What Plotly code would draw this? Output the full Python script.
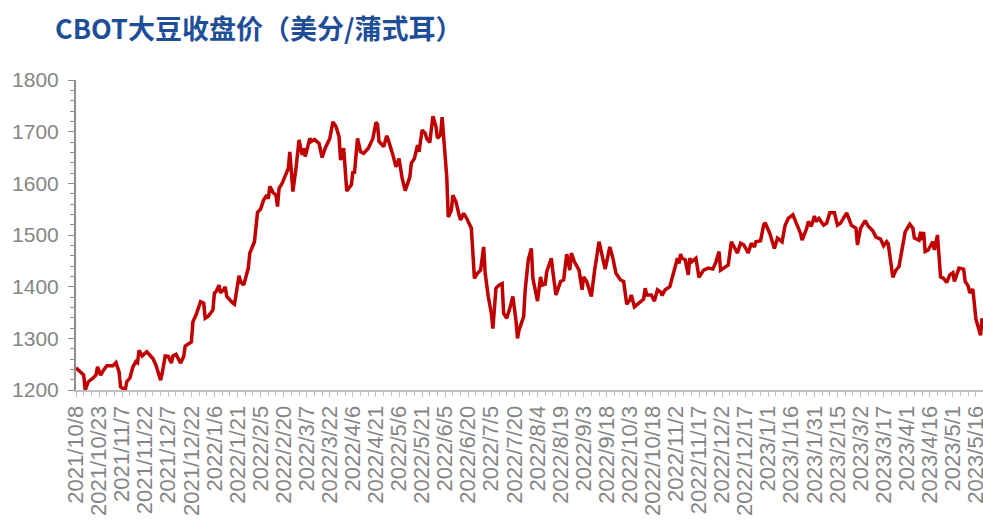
import pandas as pd
import plotly.graph_objects as go

# ---- data ----
start_date = "2021-10-08"
day_offset = [0, 5, 6, 8, 11, 13, 14, 16, 18, 20, 24, 26, 28, 29, 32, 33, 35, 37, 39, 40,
              41, 43, 46, 50, 52, 55, 56, 58, 60, 62, 63, 65, 68, 70, 71, 75, 76, 78, 81, 83,
              84, 86, 89, 90, 91, 93, 94, 96, 97, 98, 102, 103, 106, 107, 109, 112, 113, 116, 118, 120,
              122, 124, 125, 126, 128, 130, 131, 132, 134, 138, 139, 140, 141, 143, 145, 147, 148, 149, 152, 153,
              155, 158, 160, 162, 165, 167, 169, 171, 172, 174, 176, 179, 180, 181, 183, 185, 187, 190, 193, 195,
              196, 197, 199, 200, 202, 203, 206, 208, 210, 212, 214, 217, 218, 220, 222, 223, 225, 227, 228, 230,
              232, 234, 235, 237, 238, 239, 241, 242, 244, 245, 247, 249, 250, 252, 254, 257, 258, 259, 261, 263,
              265, 266, 268, 270, 271, 273, 275, 277, 278, 280, 282, 284, 286, 287, 288, 291, 292, 294, 296, 297,
              300, 302, 303, 305, 306, 309, 310, 312, 315, 317, 319, 321, 322, 324, 327, 329, 330, 332, 335, 337,
              340, 342, 344, 347, 349, 351, 354, 356, 358, 360, 361, 363, 366, 369, 370, 371, 374, 376, 378, 380,
              381, 383, 386, 388, 391, 392, 393, 394, 396, 398, 399, 400, 403, 405, 408, 411, 414, 416, 418, 419,
              422, 424, 426, 428, 430, 432, 434, 436, 437, 439, 441, 442, 445, 447, 448, 451, 454, 456, 459, 461,
              463, 466, 468, 471, 472, 475, 476, 478, 480, 481, 483, 486, 488, 490, 493, 495, 497, 501, 504, 507,
              508, 510, 513, 515, 518, 520, 523, 525, 527, 528, 531, 533, 535, 537, 539, 542, 544, 545, 548, 549,
              550, 551, 552, 554, 557, 558, 560, 562, 564, 566, 568, 570, 571, 574, 577, 578, 580, 581, 583, 585,
              586, 588, 589]
price = [1243, 1229, 1200, 1216, 1223, 1229, 1245, 1229, 1239, 1247, 1247, 1253, 1235, 1206, 1200, 1216, 1223, 1245, 1255, 1253,
         1277, 1266, 1274, 1261, 1248, 1219, 1232, 1266, 1265, 1252, 1266, 1269, 1252, 1265, 1285, 1293, 1332, 1345, 1371, 1368,
         1339, 1343, 1355, 1388, 1390, 1403, 1388, 1394, 1400, 1381, 1368, 1366, 1421, 1410, 1403, 1436, 1465, 1487, 1544, 1550,
         1568, 1577, 1570, 1594, 1583, 1577, 1555, 1590, 1600, 1629, 1661, 1623, 1584, 1629, 1684, 1655, 1668, 1652, 1687, 1681,
         1685, 1677, 1650, 1668, 1687, 1719, 1710, 1690, 1645, 1668, 1585, 1597, 1623, 1619, 1687, 1661, 1658, 1668, 1687, 1718,
         1714, 1681, 1674, 1671, 1692, 1684, 1655, 1632, 1648, 1610, 1586, 1612, 1639, 1648, 1674, 1661, 1703, 1697, 1687, 1679,
         1730, 1710, 1687, 1694, 1728, 1690, 1613, 1535, 1548, 1577, 1564, 1539, 1529, 1542, 1532, 1513, 1471, 1416, 1426, 1432,
         1477, 1426, 1381, 1348, 1319, 1397, 1403, 1406, 1348, 1339, 1358, 1381, 1335, 1300, 1316, 1342, 1394, 1452, 1474, 1416,
         1372, 1419, 1403, 1405, 1429, 1455, 1429, 1384, 1410, 1413, 1463, 1432, 1465, 1448, 1432, 1394, 1419, 1410, 1381, 1429,
         1487, 1458, 1434, 1477, 1455, 1426, 1413, 1410, 1366, 1374, 1384, 1361, 1368, 1376, 1397, 1384, 1384, 1372, 1394, 1390,
         1383, 1394, 1400, 1423, 1455, 1445, 1463, 1455, 1452, 1423, 1455, 1448, 1455, 1418, 1432, 1436, 1434, 1448, 1468, 1432,
         1439, 1442, 1487, 1477, 1465, 1484, 1481, 1471, 1465, 1484, 1477, 1487, 1489, 1519, 1524, 1503, 1474, 1494, 1487, 1519,
         1532, 1539, 1523, 1503, 1490, 1513, 1526, 1517, 1537, 1526, 1532, 1519, 1523, 1543, 1543, 1519, 1523, 1543, 1519, 1513,
         1481, 1513, 1528, 1517, 1508, 1496, 1492, 1479, 1487, 1483, 1418, 1432, 1439, 1474, 1506, 1521, 1513, 1494, 1490, 1506,
         1490, 1506, 1468, 1471, 1487, 1471, 1500, 1419, 1416, 1408, 1423, 1427, 1410, 1436, 1434, 1410, 1401, 1388, 1395, 1337,
         1328, 1306, 1339]

tick_step_days = 15
tick_count = 40
y_tick_values = [1200, 1300, 1400, 1500, 1600, 1700, 1800]
title_text = "CBOT大豆收盘价（美分/蒲式耳）"

# ---- build ----
start = pd.Timestamp(start_date)
dates = [start + pd.Timedelta(days=d) for d in day_offset]
tick_dates = [start + pd.Timedelta(days=tick_step_days * k) for k in range(tick_count)]
tick_text = [f"{d.year}/{d.month}/{d.day}" for d in tick_dates]
x_end = start + pd.Timedelta(days=589.6)

fig = go.Figure()
fig.add_trace(go.Scatter(
    x=dates, y=price, mode="lines",
    line=dict(color="#C00000", width=3.5),
    hoverinfo="skip", showlegend=False,
))

fig.update_layout(
    width=983, height=520,
    margin=dict(l=76, r=0, t=80, b=130, autoexpand=False),
    paper_bgcolor="white", plot_bgcolor="white",
    title=dict(
        text=f"<b>{title_text}</b>",
        font=dict(family="Noto Sans CJK SC", size=27, color="#1F4E99"),
        x=55 / 983, xref="container", xanchor="left",
        y=1 - 30 / 520, yref="container", yanchor="middle",
        pad=dict(l=0, r=0, t=0, b=0),
    ),
)

fig.update_xaxes(
    type="date", automargin=False,
    range=[start, x_end],
    tickmode="array", tickvals=tick_dates, ticktext=tick_text,
    tickangle=-90, ticklabeloverflow="allow",
    tickfont=dict(family="Liberation Sans, Arial", size=22, color="#858585"),
    ticks="outside", ticklen=5, tickcolor="#BFBFBF", tickwidth=1,
    minor=dict(ticks="outside", ticklen=4, tickcolor="#BFBFBF",
               dtick=5 * 86400000, tick0=start_date, showgrid=False),
    showline=True, linecolor="#BFBFBF", linewidth=2,
    showgrid=False, zeroline=False,
)

fig.update_yaxes(
    automargin=False,
    range=[1200, 1800],
    tickmode="array", tickvals=y_tick_values,
    tickfont=dict(family="Liberation Sans, Arial", size=21, color="#858585"),
    ticks="outside", ticklen=6, tickcolor="#8C8C8C", tickwidth=1,
    minor=dict(ticks="outside", ticklen=4, tickcolor="#8C8C8C", dtick=20, showgrid=False),
    ticklabelstandoff=5,
    showline=True, linecolor="#8C8C8C", linewidth=2,
    showgrid=False, zeroline=False,
)

fig.write_html(
    "out.html",
    config={"displayModeBar": False},
    post_script="document.body.style.margin='0';document.body.style.overflow='hidden';",
)
